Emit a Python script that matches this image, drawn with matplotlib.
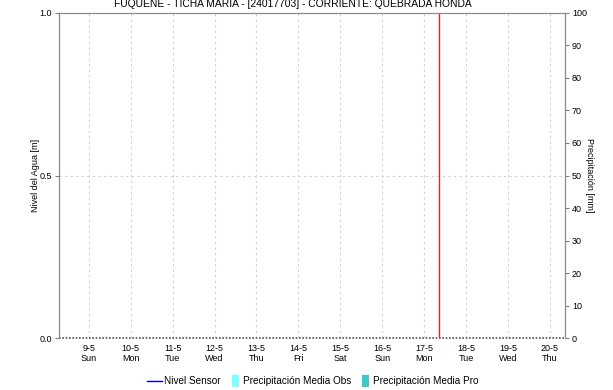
import numpy as np
import pandas as pd
import matplotlib
matplotlib.use('Agg')
import matplotlib.pyplot as plt
import matplotlib.patches as patches
from matplotlib.lines import Line2D
from matplotlib.legend_handler import HandlerPatch

plt.rcParams['font.family'] = ['Liberation Sans', 'DejaVu Sans']

# data (the station reported nothing in this window)
title = 'FUQUENE - TICHA MARIA - [24017703] - CORRIENTE: QUEBRADA HONDA'
tick_days = pd.date_range('2021-05-09', '2021-05-20', freq='D')
t_start = pd.Timestamp('2021-05-08 07:00')
t_end = pd.Timestamp('2021-05-20 08:36')
t_now = pd.Timestamp('2021-05-17 08:36')
nivel_t = []
nivel_v = []
prec_obs = []
prec_pro = []

fig = plt.figure(figsize=(6.13, 3.90), dpi=100)
ax = fig.add_axes([0.0963, 0.1333, 0.8254, 0.8334])
ax2 = ax.twinx()

ax.plot(nivel_t, nivel_v, color='#0000cc', lw=1)
ax.set_xlim(t_start, t_end)
ax.set_ylim(0, 1.0)
ax2.set_ylim(0, 100)

ax.set_xticks(tick_days)
ax.set_xticklabels([d.strftime('%-d-%-m') + '\n' + d.strftime('%a') for d in tick_days])
ax.set_yticks([0.0, 0.5, 1.0])
ax.yaxis.set_major_formatter(matplotlib.ticker.FormatStrFormatter('%.1f'))
ax2.set_yticks(np.arange(0, 101, 10))

ax.tick_params(axis='x', length=0, labelsize=6.5, pad=4, colors='black')
ax.tick_params(axis='y', length=3, labelsize=6.5, pad=2, color='#808080')
ax2.tick_params(axis='y', length=3, labelsize=6.5, pad=2, color='#808080')

for s in ('left', 'top'):
    ax.spines[s].set_color('#8c8c8c')
    ax.spines[s].set_linewidth(0.9)
ax.spines['right'].set_visible(False)
ax.spines['bottom'].set_visible(False)
for s in ('left', 'top', 'bottom'):
    ax2.spines[s].set_visible(False)
ax2.spines['right'].set_color('#8c8c8c')
ax2.spines['right'].set_linewidth(0.9)

for d in tick_days:
    ax.axvline(d, color='#d0d0d0', ls=(0, (2, 3)), lw=0.8, zorder=0)
ax.axhline(0.5, color='#d0d0d0', ls=(0, (2, 3)), lw=0.8, zorder=0)
ax.axhline(0.0, color='#505050', ls=(0, (1, 1)), lw=1.2, zorder=1, clip_on=False)
ax.axvline(t_now, color='#e8202a', lw=1, zorder=2)

ax.set_ylabel('Nivel del Agua [m]', fontsize=6.5, labelpad=0)
ax2.set_ylabel('Precipitación [mm]', fontsize=6.5, rotation=-90, labelpad=5)

fig.text(0.478, 0.983, title, fontsize=7.4, ha='center', va='baseline')


def narrow_box(legend, orig_handle, xdescent, ydescent, width, height, fontsize):
    return patches.Rectangle((width - 6 - xdescent, -ydescent - 1.5), 5, height + 3)


handles = [Line2D([], [], color='#0000cc', lw=1),
           patches.Patch(facecolor='#80ffff', edgecolor='none'),
           patches.Patch(facecolor='#40c8c8', edgecolor='none')]
labels = ['Nivel Sensor', 'Precipitación Media Obs', 'Precipitación Media Pro']
fig.legend(handles, labels, loc='center', bbox_to_anchor=(0.51, 0.022), ncol=3,
           frameon=False, fontsize=7.2, handlelength=1.5, handletextpad=0.2,
           columnspacing=0.5, handler_map={patches.Patch: HandlerPatch(patch_func=narrow_box)})

fig.savefig('out.png', dpi=100)
